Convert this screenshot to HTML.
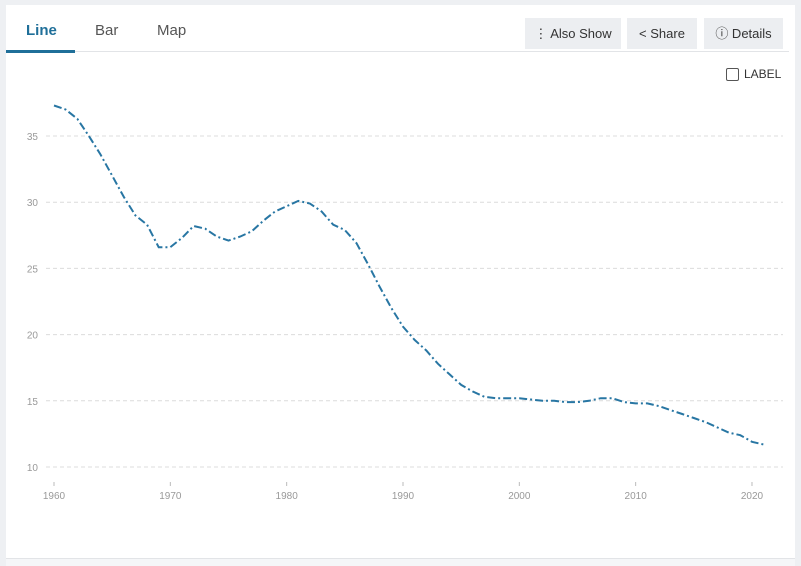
<!DOCTYPE html>
<html><head><meta charset="utf-8"><style>
body{margin:0;width:801px;height:565px;background:#eef0f3;font-family:"Liberation Sans",sans-serif;overflow:hidden;position:relative}
.card{position:absolute;left:6px;top:5px;width:789px;height:553px;background:#fff}
.tab{position:absolute;top:17px;font-size:15px;color:#555}
.btn{position:absolute;top:13px;height:31px;background:#eceef1;font-size:13px;color:#333;line-height:31px;text-align:center}
</style></head><body>
<div class="card">
<div class="tab" style="left:20px;color:#1f6f99;font-weight:bold">Line</div>
<div class="tab" style="left:89px">Bar</div>
<div class="tab" style="left:151px">Map</div>
<div style="position:absolute;left:0;top:46px;width:783px;height:1px;background:#e2e4e7"></div>
<div style="position:absolute;left:0;top:45px;width:69px;height:3px;background:#1f6f99"></div>
<div class="btn" style="left:519px;width:96px">⋮ Also Show</div>
<div class="btn" style="left:621px;width:70px">&lt; Share</div>
<div class="btn" style="left:698px;width:79px">ⓘ Details</div>
<div style="position:absolute;left:720px;top:63px;width:11px;height:11px;border:1px solid #555;border-radius:2px"></div>
<div style="position:absolute;left:738px;top:62px;font-size:12px;color:#333">LABEL</div>
</div>
<div style="position:absolute;left:6px;top:558px;width:789px;height:7px;background:#f5f6f8;border-top:1px solid #e2e4e7"></div>
<svg id="c" width="801" height="565" style="position:absolute;left:0;top:0"></svg>
<script>
var d=[37.3,37.0,36.3,35.0,33.6,32.0,30.4,29.0,28.3,26.6,26.6,27.3,28.2,28.0,27.4,27.1,27.4,27.8,28.6,29.3,29.7,30.1,29.9,29.3,28.3,27.9,26.9,25.3,23.6,22.0,20.6,19.6,18.8,17.8,17.0,16.2,15.7,15.3,15.2,15.2,15.2,15.1,15.0,15.0,14.9,14.9,15.0,15.2,15.2,14.9,14.8,14.8,14.6,14.3,14.0,13.7,13.4,13.0,12.6,12.4,11.9,11.7];
function Y(v){return 467-(v-10)*13.24}function X(y){return 54+(y-1960)*11.633}
var s='';
for(var v=10;v<=35;v+=5){var y=Y(v);s+='<line x1="46" x2="783" y1="'+y+'" y2="'+y+'" stroke="#dcdcdc" stroke-dasharray="4,3"/><text x="38" y="'+(y+4)+'" font-size="10" fill="#999" text-anchor="end" font-family="Liberation Sans">'+v+'</text>';}
for(var yr=1960;yr<=2020;yr+=10){var x=X(yr);s+='<line x1="'+x+'" x2="'+x+'" y1="482" y2="486" stroke="#bbb"/><text x="'+x+'" y="499" font-size="10" fill="#999" text-anchor="middle" font-family="Liberation Sans">'+yr+'</text>';}
var p=d.map(function(v,i){return X(1960+i).toFixed(1)+','+Y(v).toFixed(1)}).join(' ');
s+='<polyline points="'+p+'" fill="none" stroke="#2876a3" stroke-width="2" stroke-dasharray="8,3,2,3"/>';
document.getElementById('c').innerHTML=s;
</script>
</body></html>
